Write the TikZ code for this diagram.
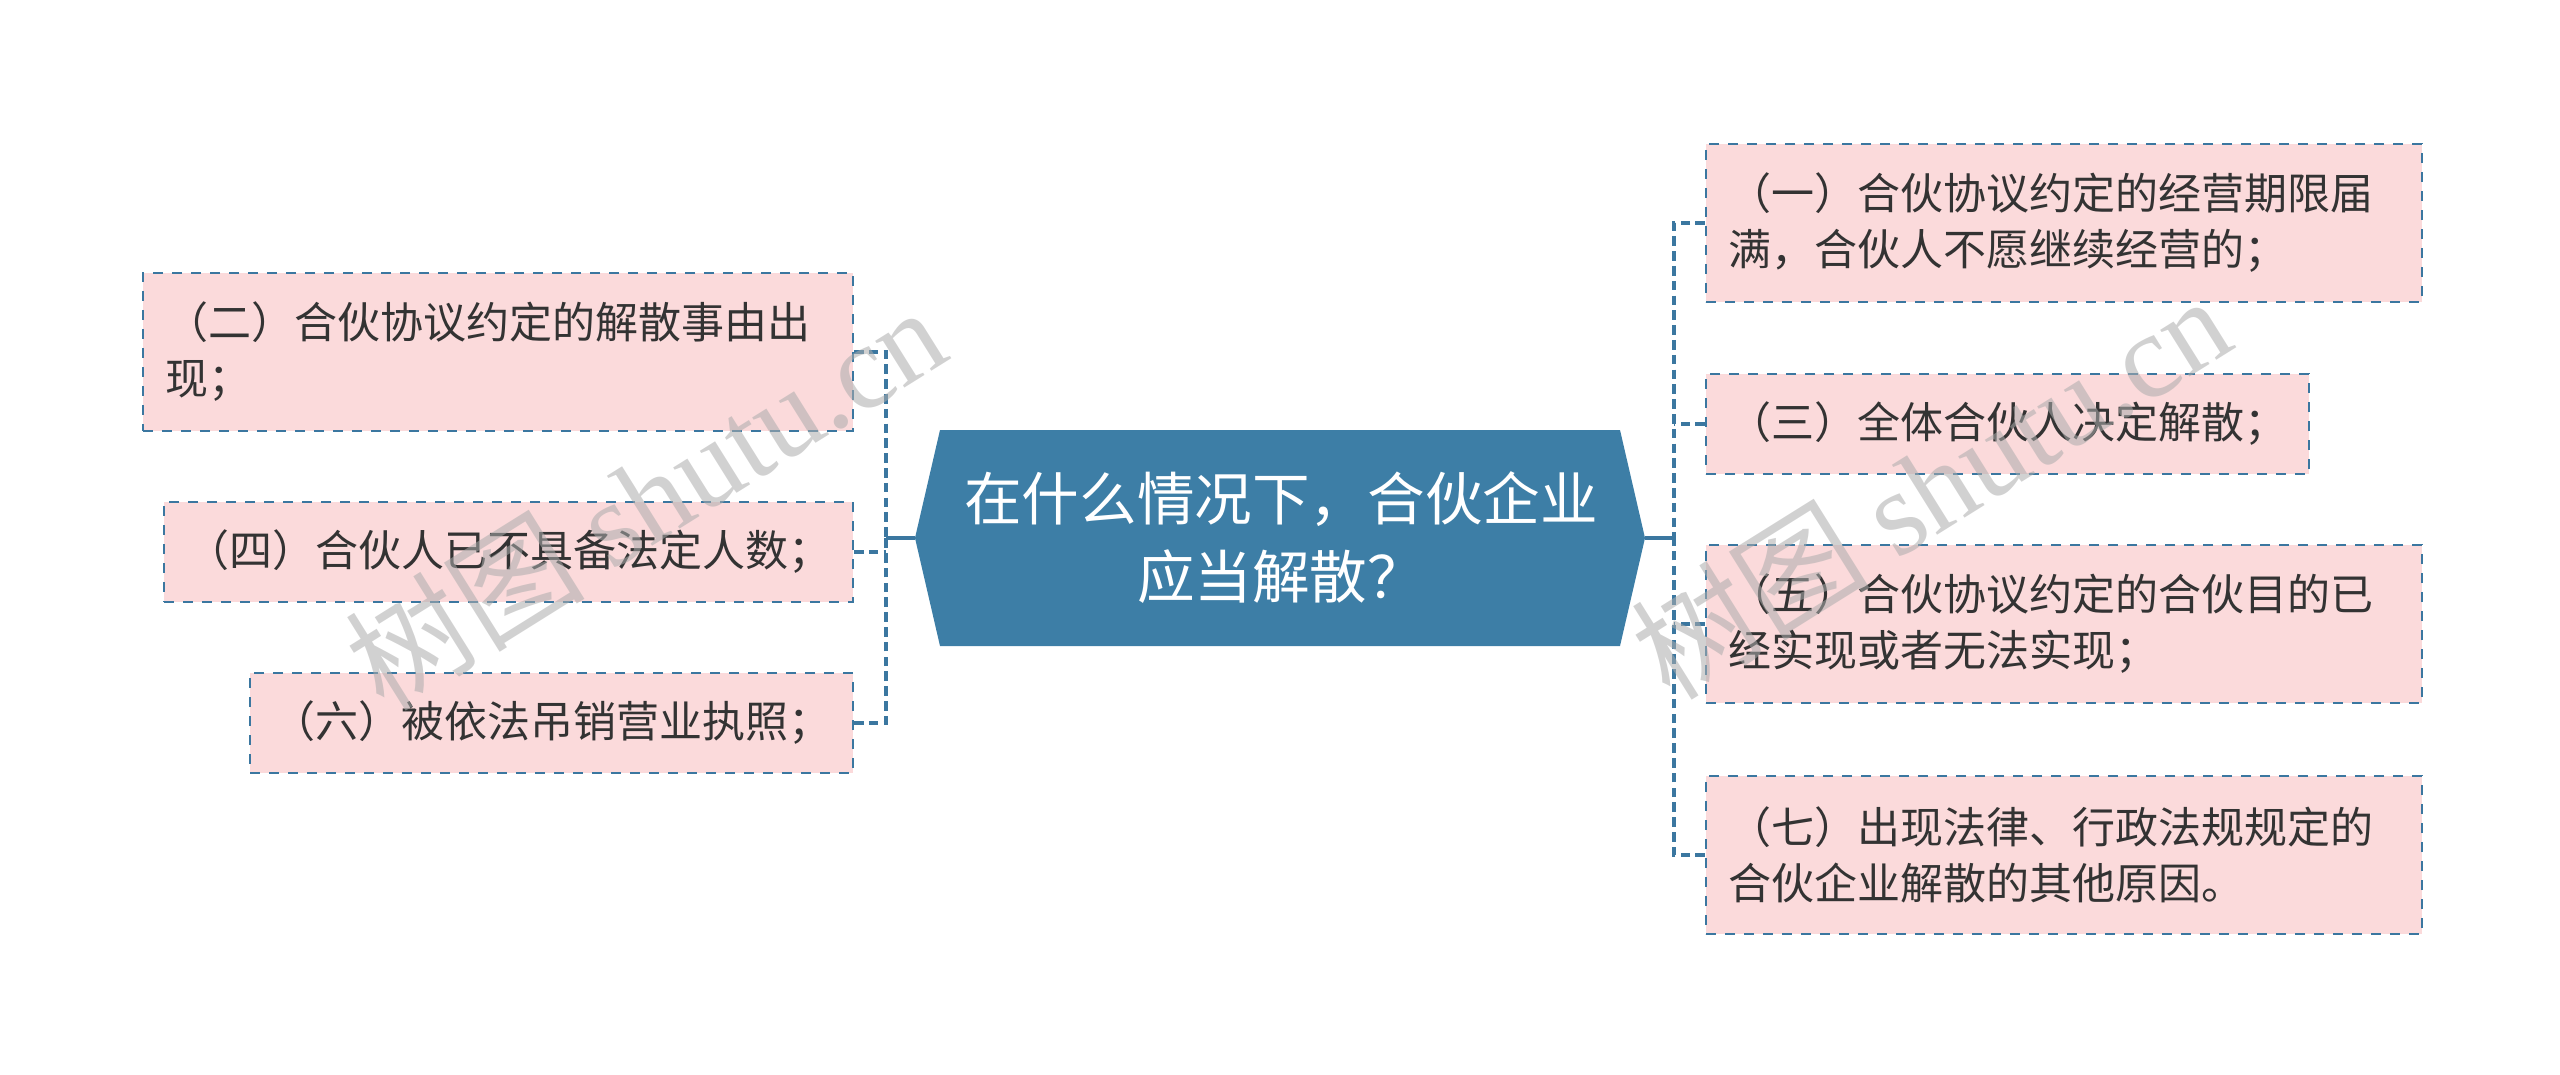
\documentclass[tikz,border=0pt]{standalone}
\usepackage{fontspec}
\setmainfont{Noto Sans CJK SC}
\newfontfamily\cjkfont{Noto Sans CJK SC}
\newfontfamily\wmserif{Liberation Serif}
\definecolor{nodeblue}{HTML}{3D7EA6}
\definecolor{boxpink}{HTML}{FBDADB}
\definecolor{boxline}{HTML}{3B77A0}
\definecolor{txtdark}{HTML}{333333}
\begin{document}
\begin{tikzpicture}[x=0.5pt,y=-0.5pt,
  leafbox/.style={draw=boxline, fill=boxpink, line width=1pt,
    dash pattern=on 5pt off 4.5pt, text=txtdark,
    font=\fontsize{21.5pt}{28pt}\selectfont, align=left,
    inner xsep=11pt, inner ysep=0pt},
  oneline/.style={leafbox, minimum height=50pt},
  twoline/.style={leafbox, minimum height=79pt},
  conndash/.style={draw=boxline, line width=1.8pt, dash pattern=on 4.8pt off 2.6pt},
  connsolid/.style={draw=boxline, line width=1.8pt},
  rootfill/.style={fill=nodeblue},
  roottext/.style={text=white, font=\fontsize{28.8pt}{39pt}\selectfont, align=center},
  watermark/.style={text=gray!65, opacity=0.55, rotate=32}
]
\useasboundingbox (0,0) rectangle (2560,1075);

% central node
\coordinate (cL) at (915,538);
\coordinate (cR) at (1645,538);
\fill[rootfill] (cL) -- (940,430) -- (1620,430) -- (cR) -- (1620,646) -- (940,646) -- cycle;
\node[roottext] (root) at (1281,538) {在什么情况下，合伙企业\\应当解散？};

% buses
\coordinate (lbus) at (886,538);
\coordinate (rbus) at (1674,538);

% left boxes
\node[twoline, anchor=east, text width=333pt] (b2) at (854,352) {（二）合伙协议约定的解散事由出\\现；};
\node[oneline, anchor=east] (b4) at (854,552) {（四）合伙人已不具备法定人数；};
\node[oneline, anchor=east] (b6) at (854,723) {（六）被依法吊销营业执照；};

% right boxes
\node[twoline, anchor=west, text width=336pt] (b1) at (1705,223) {（一）合伙协议约定的经营期限届\\满，合伙人不愿继续经营的；};
\node[oneline, anchor=west] (b3) at (1705,424) {（三）全体合伙人决定解散；};
\node[twoline, anchor=west, text width=336pt] (b5) at (1705,624) {（五）合伙协议约定的合伙目的已\\经实现或者无法实现；};
\node[twoline, anchor=west, text width=336pt] (b7) at (1705,855) {（七）出现法律、行政法规规定的\\合伙企业解散的其他原因。};

% connectors
\draw[connsolid] (cL) -- (lbus);
\draw[connsolid] (cR) -- (rbus);
\draw[conndash] (b2.east) -| (lbus);
\draw[conndash] (b6.east) -| (lbus);
\draw[conndash] (b4.east) -- (b4.east -| lbus);
\draw[conndash] (b1.west) -| (rbus);
\draw[conndash] (b7.west) -| (rbus);
\draw[conndash] (b3.west) -- (b3.west -| rbus);
\draw[conndash] (b5.west) -- (b5.west -| rbus);

% watermarks
\node[watermark] (wm1) at (645,497) {{\fontsize{60pt}{61pt}\selectfont\cjkfont 树图 \wmserif shutu.cn}};
\node[watermark] (wm2) at (1930,486) {{\fontsize{60pt}{61pt}\selectfont\cjkfont 树图 \wmserif shutu.cn}};
\end{tikzpicture}
\end{document}
